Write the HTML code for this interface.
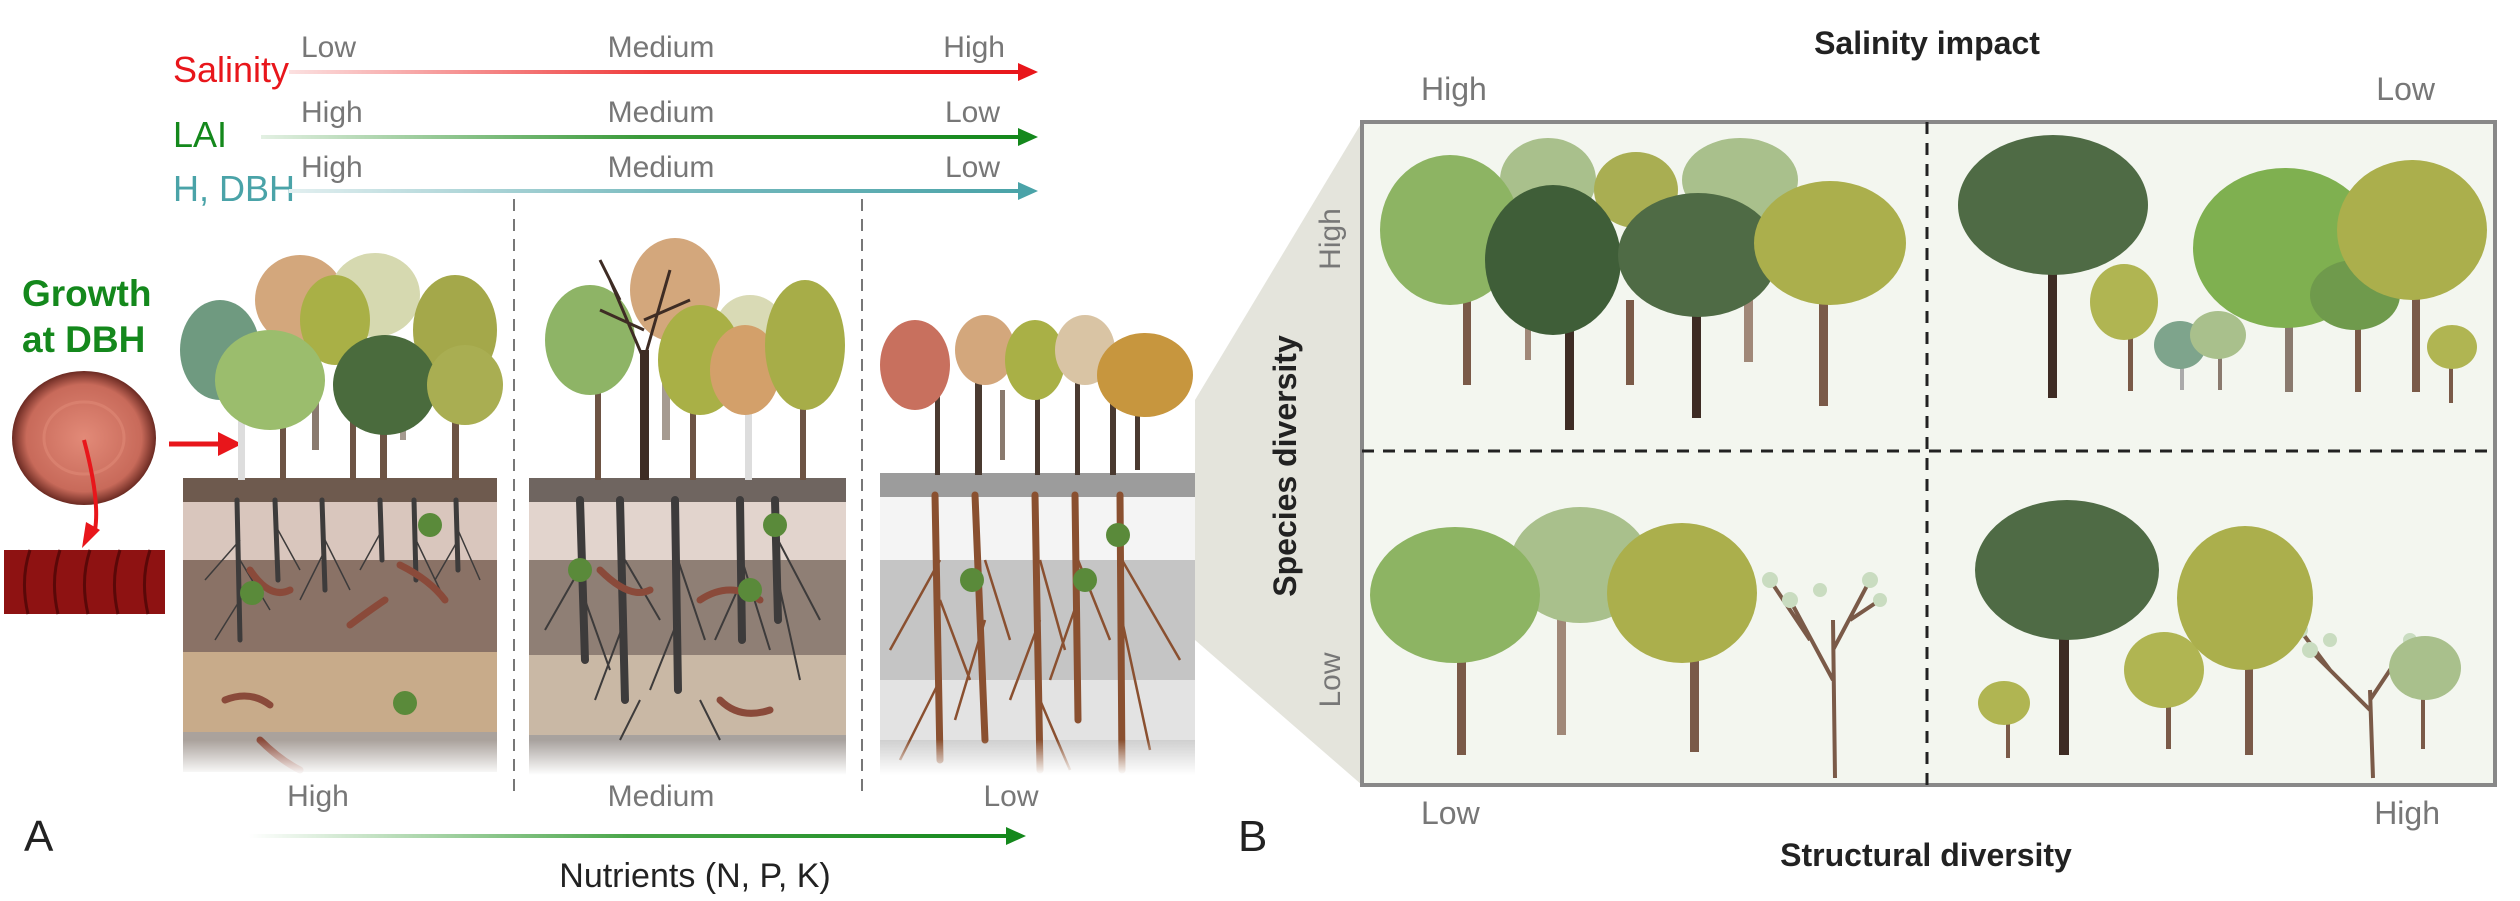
<!DOCTYPE html>
<html><head><meta charset="utf-8"><style>
html,body{margin:0;padding:0;background:#fff;}
svg{display:block;}
text{font-family:"Liberation Sans",sans-serif;}
</style></head><body>
<svg width="2520" height="901" viewBox="0 0 2520 901" xmlns="http://www.w3.org/2000/svg">
<defs>
<linearGradient id="gr" x1="0" x2="1"><stop offset="0" stop-color="#fbe0e0"/><stop offset="0.5" stop-color="#ef3a3a"/><stop offset="1" stop-color="#e8161b"/></linearGradient>
<linearGradient id="gg" x1="0" x2="1"><stop offset="0" stop-color="#e3f0e3"/><stop offset="0.5" stop-color="#3a9a3a"/><stop offset="1" stop-color="#14881c"/></linearGradient>
<linearGradient id="gt" x1="0" x2="1"><stop offset="0" stop-color="#e2eff0"/><stop offset="0.5" stop-color="#7bbcc0"/><stop offset="1" stop-color="#4aa3a8"/></linearGradient>
<linearGradient id="gn" x1="0" x2="1"><stop offset="0" stop-color="#ffffff"/><stop offset="0.5" stop-color="#4aa64a"/><stop offset="1" stop-color="#14881c"/></linearGradient>
<linearGradient id="fade" x1="0" y1="0" x2="0" y2="1"><stop offset="0" stop-color="#fff" stop-opacity="0"/><stop offset="1" stop-color="#fff" stop-opacity="1"/></linearGradient>
<radialGradient id="ring"><stop offset="0" stop-color="#e28a78"/><stop offset="0.8" stop-color="#c86a5a"/><stop offset="1" stop-color="#6b2a22"/></radialGradient>
</defs>

<!-- top gradient arrows -->
<text x="173" y="82" font-size="36" fill="#e8161b">Salinity</text>
<rect x="289" y="70" width="731" height="4" fill="url(#gr)"/>
<polygon points="1038,72 1018,63 1018,81" fill="#e8161b"/>
<text x="301" y="57" font-size="30" fill="#777">Low</text>
<text x="661" y="57" font-size="30" fill="#777" text-anchor="middle">Medium</text>
<text x="1005" y="57" font-size="30" fill="#777" text-anchor="end">High</text>

<text x="173" y="147" font-size="36" fill="#14881c">LAI</text>
<rect x="261" y="135" width="759" height="4" fill="url(#gg)"/>
<polygon points="1038,137 1018,128 1018,146" fill="#14881c"/>
<text x="301" y="122" font-size="30" fill="#777">High</text>
<text x="661" y="122" font-size="30" fill="#777" text-anchor="middle">Medium</text>
<text x="1000" y="122" font-size="30" fill="#777" text-anchor="end">Low</text>

<text x="173" y="201" font-size="36" fill="#4aa3a8">H, DBH</text>
<rect x="289" y="189" width="731" height="4" fill="url(#gt)"/>
<polygon points="1038,191 1018,182 1018,200" fill="#4aa3a8"/>
<text x="301" y="177" font-size="30" fill="#777">High</text>
<text x="661" y="177" font-size="30" fill="#777" text-anchor="middle">Medium</text>
<text x="1000" y="177" font-size="30" fill="#777" text-anchor="end">Low</text>

<!-- dashed separators -->
<line x1="514" y1="199" x2="514" y2="795" stroke="#777" stroke-width="2" stroke-dasharray="12,8"/>
<line x1="862" y1="199" x2="862" y2="795" stroke="#777" stroke-width="2" stroke-dasharray="12,8"/>

<!-- Growth at DBH -->
<text x="22" y="306" font-size="37" font-weight="bold" fill="#14881c">Growth</text>
<text x="22" y="352" font-size="37" font-weight="bold" fill="#14881c">at DBH</text>
<ellipse cx="84" cy="438" rx="72" ry="67" fill="url(#ring)"/>
<ellipse cx="84" cy="438" rx="40" ry="36" fill="none" stroke="#d9806e" stroke-width="3"/>
<path d="M84,440 Q100,500 95,530" stroke="#e8161b" stroke-width="4" fill="none"/>
<polygon points="82,548 86,522 100,530" fill="#e8161b"/>
<rect x="4" y="550" width="161" height="64" fill="#8e1212"/>
<path d="M30,550 Q20,580 28,614 M60,550 Q50,580 58,614 M90,550 Q80,580 88,614 M120,550 Q110,580 118,614 M150,550 Q140,580 148,614" stroke="#5a0808" stroke-width="3" fill="none"/>
<line x1="169" y1="444" x2="222" y2="444" stroke="#e8161b" stroke-width="5"/>
<polygon points="242,444 218,432 218,456" fill="#e8161b"/>

<!-- Panel 1 soil -->
<g>
<rect x="183" y="478" width="314" height="24" fill="#6e5a4e"/>
<rect x="183" y="502" width="314" height="58" fill="#d9c6bd"/>
<rect x="183" y="560" width="314" height="92" fill="#8a7266"/>
<rect x="183" y="652" width="314" height="80" fill="#c8ab8a"/>
<rect x="183" y="732" width="314" height="40" fill="#aaa29c"/>
<g stroke="#3d3b3b" stroke-width="5" fill="none" stroke-linecap="round">
<path d="M237,500 L240,640"/><path d="M275,500 L278,580"/><path d="M322,500 L325,590"/><path d="M380,500 L382,560"/><path d="M414,500 L416,580"/><path d="M456,500 L458,570"/>
</g>
<g stroke="#3d3b3b" stroke-width="1.5" fill="none">
<path d="M240,540 L205,580 M240,560 L270,610 M278,530 L300,570 M325,540 L350,590 M325,550 L300,600 M382,530 L360,570 M416,540 L440,590 M458,530 L480,580 M458,540 L435,580 M240,600 L215,640"/>
</g>
<g stroke="#8a4a3a" stroke-width="7" fill="none" stroke-linecap="round">
<path d="M250,570 Q270,600 290,590"/><path d="M400,565 Q430,580 445,600"/><path d="M350,625 Q370,610 385,600"/><path d="M225,700 Q250,690 270,705"/><path d="M260,740 Q280,760 300,770"/>
</g>
<circle cx="430" cy="525" r="12" fill="#5a8a3a"/><circle cx="252" cy="593" r="12" fill="#5a8a3a"/><circle cx="405" cy="703" r="12" fill="#5a8a3a"/>
<rect x="183" y="740" width="314" height="35" fill="url(#fade)"/>
</g>
<!-- Panel 1 trees -->
<g>
<g fill="#6d5444"><rect x="280" y="390" width="6" height="90"/><rect x="350" y="390" width="6" height="90"/><rect x="312" y="380" width="7" height="70" fill="#8a7a6e"/><rect x="380" y="390" width="7" height="90"/><rect x="400" y="380" width="6" height="60" fill="#a59a90"/><rect x="452" y="390" width="7" height="90"/></g>
<rect x="238" y="400" width="7" height="80" fill="#ddd"/>
<ellipse cx="220" cy="350" rx="40" ry="50" fill="#6f9a80"/>
<ellipse cx="300" cy="300" rx="45" ry="45" fill="#d3a77c"/>
<ellipse cx="375" cy="295" rx="45" ry="42" fill="#d6d9b0"/>
<ellipse cx="335" cy="320" rx="35" ry="45" fill="#a9b046"/>
<ellipse cx="455" cy="330" rx="42" ry="55" fill="#a4a84a"/>
<ellipse cx="270" cy="380" rx="55" ry="50" fill="#9bbd6d"/>
<ellipse cx="385" cy="385" rx="52" ry="50" fill="#4a6b3d"/>
<ellipse cx="465" cy="385" rx="38" ry="40" fill="#a9ae52"/>
</g>

<!-- Panel 2 soil -->
<g>
<rect x="529" y="478" width="317" height="24" fill="#6f6560"/>
<rect x="529" y="502" width="317" height="58" fill="#e2d4cd"/>
<rect x="529" y="560" width="317" height="95" fill="#8f7f75"/>
<rect x="529" y="655" width="317" height="80" fill="#c9b8a5"/>
<rect x="529" y="735" width="317" height="40" fill="#a8a29e"/>
<g stroke="#3d3b3b" stroke-width="8" fill="none" stroke-linecap="round">
<path d="M580,500 L585,660"/><path d="M620,500 L625,700"/><path d="M675,500 L678,690"/><path d="M740,500 L742,640"/><path d="M775,500 L778,620"/>
</g>
<g stroke="#3d3b3b" stroke-width="2" fill="none">
<path d="M585,560 L545,630 M585,600 L610,670 M625,560 L660,620 M625,620 L595,700 M678,560 L705,640 M678,620 L650,690 M742,560 L770,650 M742,580 L715,640 M778,540 L820,620 M778,580 L800,680 M640,700 L620,740 M700,700 L720,740"/>
</g>
<g stroke="#8a4a3a" stroke-width="7" fill="none" stroke-linecap="round">
<path d="M600,570 Q630,600 650,590"/><path d="M700,600 Q730,580 760,600"/><path d="M720,700 Q740,720 770,710"/>
</g>
<circle cx="580" cy="570" r="12" fill="#5a8a3a"/><circle cx="775" cy="525" r="12" fill="#5a8a3a"/><circle cx="750" cy="590" r="12" fill="#5a8a3a"/>
<rect x="529" y="740" width="317" height="35" fill="url(#fade)"/>
</g>
<!-- Panel 2 trees -->
<g>
<g fill="#6d5444"><rect x="595" y="390" width="6" height="90"/><rect x="640" y="350" width="9" height="130" fill="#3e2c24"/><rect x="690" y="390" width="6" height="90"/><rect x="662" y="380" width="8" height="60" fill="#a59a90"/><rect x="745" y="390" width="7" height="90" fill="#ddd"/><rect x="800" y="390" width="6" height="90"/></g>
<ellipse cx="590" cy="340" rx="45" ry="55" fill="#8eb466"/>
<ellipse cx="675" cy="290" rx="45" ry="52" fill="#d3a77c"/>
<ellipse cx="750" cy="330" rx="35" ry="35" fill="#d9dab5"/>
<ellipse cx="700" cy="360" rx="42" ry="55" fill="#a9b046"/>
<ellipse cx="745" cy="370" rx="35" ry="45" fill="#d3a06a"/>
<ellipse cx="805" cy="345" rx="40" ry="65" fill="#a7ad48"/>
<g stroke="#3e2c24" stroke-width="3" fill="none"><path d="M644,360 L610,280 M644,360 L670,270 M644,330 L600,310 M644,320 L690,300 M620,300 L600,260"/></g>
</g>

<!-- Panel 3 soil -->
<g>
<rect x="880" y="473" width="315" height="24" fill="#9c9c9c"/>
<rect x="880" y="497" width="315" height="63" fill="#f4f4f4"/>
<rect x="880" y="560" width="315" height="120" fill="#c5c5c5"/>
<rect x="880" y="680" width="315" height="60" fill="#e3e3e3"/>
<rect x="880" y="740" width="315" height="35" fill="#d0d0d0"/>
<g stroke="#8a5030" stroke-width="7" fill="none" stroke-linecap="round">
<path d="M935,495 L940,760"/><path d="M975,495 L985,740"/><path d="M1035,495 L1040,770"/><path d="M1075,495 L1078,720"/><path d="M1120,495 L1122,770"/>
</g>
<g stroke="#8a5030" stroke-width="2.5" fill="none">
<path d="M940,560 L890,650 M940,600 L970,680 M985,560 L1010,640 M985,620 L955,720 M1040,560 L1065,650 M1040,620 L1010,700 M1078,560 L1110,640 M1078,600 L1050,680 M1122,560 L1180,660 M1122,620 L1150,750 M940,680 L900,760 M1040,700 L1070,770"/>
</g>
<circle cx="1118" cy="535" r="12" fill="#5a8a3a"/><circle cx="972" cy="580" r="12" fill="#5a8a3a"/><circle cx="1085" cy="580" r="12" fill="#5a8a3a"/>
<rect x="880" y="740" width="315" height="35" fill="url(#fade)"/>
</g>
<!-- Panel 3 trees -->
<g>
<g fill="#4a3a30"><rect x="935" y="390" width="5" height="85"/><rect x="975" y="380" width="7" height="95"/><rect x="1000" y="390" width="5" height="70" fill="#8a7a6e"/><rect x="1035" y="390" width="5" height="85"/><rect x="1075" y="380" width="5" height="95"/><rect x="1110" y="390" width="6" height="85"/><rect x="1135" y="390" width="5" height="80"/></g>
<ellipse cx="915" cy="365" rx="35" ry="45" fill="#c8705e"/>
<ellipse cx="985" cy="350" rx="30" ry="35" fill="#d3a77c"/>
<ellipse cx="1035" cy="360" rx="30" ry="40" fill="#a9b046"/>
<ellipse cx="1085" cy="350" rx="30" ry="35" fill="#d9c4a4"/>
<ellipse cx="1145" cy="375" rx="48" ry="42" fill="#c7963e"/>
</g>

<!-- bottom labels -->
<text x="318" y="806" font-size="30" fill="#777" text-anchor="middle">High</text>
<text x="661" y="806" font-size="30" fill="#777" text-anchor="middle">Medium</text>
<text x="1011" y="806" font-size="30" fill="#777" text-anchor="middle">Low</text>
<text x="24" y="851" font-size="44" fill="#222">A</text>
<rect x="249" y="834" width="759" height="4" fill="url(#gn)"/>
<polygon points="1026,836 1006,827 1006,845" fill="#14881c"/>
<text x="695" y="887" font-size="34" fill="#222" text-anchor="middle">Nutrients (N, P, K)</text>

<!-- Panel B -->
<polygon points="1195,400 1362,122 1362,785 1195,640" fill="#e4e4dc"/>
<text x="1238" y="851" font-size="44" fill="#222">B</text>
<text x="1927" y="54" font-size="32" font-weight="bold" fill="#222" text-anchor="middle">Salinity impact</text>
<text x="1421" y="100" font-size="32" fill="#777">High</text>
<text x="2435" y="100" font-size="32" fill="#777" text-anchor="end">Low</text>
<text x="1421" y="824" font-size="32" fill="#777">Low</text>
<text x="2440" y="824" font-size="32" fill="#777" text-anchor="end">High</text>
<text x="1926" y="866" font-size="32" font-weight="bold" fill="#222" text-anchor="middle">Structural diversity</text>
<text transform="translate(1296,466) rotate(-90)" font-size="32" font-weight="bold" fill="#222" text-anchor="middle">Species diversity</text>
<text transform="translate(1340,239) rotate(-90)" font-size="30" fill="#777" text-anchor="middle">High</text>
<text transform="translate(1340,680) rotate(-90)" font-size="30" fill="#777" text-anchor="middle">Low</text>

<rect x="1362" y="122" width="1133" height="663" fill="#f3f6ef" stroke="#888" stroke-width="4"/>
<line x1="1362" y1="451" x2="2495" y2="451" stroke="#222" stroke-width="3" stroke-dasharray="12,9"/>
<line x1="1927" y1="122" x2="1927" y2="785" stroke="#222" stroke-width="3" stroke-dasharray="12,9"/>

<!-- Q1 trees -->
<g>
<rect x="1463" y="270" width="8" height="115" fill="#7a5a48"/>
<rect x="1525" y="300" width="6" height="60" fill="#a08878"/>
<rect x="1565" y="300" width="9" height="130" fill="#3e2c24"/>
<rect x="1626" y="300" width="8" height="85" fill="#7a5a48"/>
<rect x="1692" y="300" width="9" height="118" fill="#3e2c24"/>
<rect x="1744" y="300" width="9" height="62" fill="#a08878"/>
<rect x="1819" y="290" width="9" height="116" fill="#7a5a48"/>
<ellipse cx="1548" cy="180" rx="48" ry="42" fill="#a9c08c"/>
<ellipse cx="1740" cy="180" rx="58" ry="42" fill="#a9c08c"/>
<ellipse cx="1636" cy="190" rx="42" ry="38" fill="#a9ae52"/>
<ellipse cx="1450" cy="230" rx="70" ry="75" fill="#8db463"/>
<ellipse cx="1553" cy="260" rx="68" ry="75" fill="#3f5e38"/>
<ellipse cx="1698" cy="255" rx="80" ry="62" fill="#4f6b45"/>
<ellipse cx="1830" cy="243" rx="76" ry="62" fill="#abaf4c"/>
</g>
<!-- Q2 trees -->
<g>
<rect x="2048" y="260" width="9" height="138" fill="#3e2c24"/>
<rect x="2128" y="300" width="5" height="91" fill="#7a5a48"/>
<rect x="2180" y="340" width="4" height="50" fill="#aaa"/>
<rect x="2218" y="330" width="4" height="60" fill="#8a7a6e"/>
<rect x="2285" y="300" width="8" height="92" fill="#8a7a6e"/>
<rect x="2355" y="320" width="6" height="72" fill="#7a5a48"/>
<rect x="2412" y="280" width="8" height="112" fill="#7a5a48"/>
<rect x="2449" y="350" width="4" height="53" fill="#7a5a48"/>
<ellipse cx="2053" cy="205" rx="95" ry="70" fill="#4f6b45"/>
<ellipse cx="2124" cy="302" rx="34" ry="38" fill="#b0b552"/>
<ellipse cx="2180" cy="345" rx="26" ry="24" fill="#7ea48c"/>
<ellipse cx="2218" cy="335" rx="28" ry="24" fill="#a9c08c"/>
<ellipse cx="2285" cy="248" rx="92" ry="80" fill="#7fb050"/>
<ellipse cx="2355" cy="295" rx="45" ry="35" fill="#6f9a4c"/>
<ellipse cx="2412" cy="230" rx="75" ry="70" fill="#abaf4c"/>
<ellipse cx="2452" cy="347" rx="25" ry="22" fill="#b0b552"/>
</g>
<!-- Q3 trees -->
<g>
<rect x="1457" y="620" width="9" height="135" fill="#7a5a48"/>
<rect x="1557" y="600" width="9" height="135" fill="#a08878"/>
<rect x="1690" y="620" width="9" height="132" fill="#7a5a48"/>
<path d="M1835,778 L1833,620 M1833,680 L1790,600 M1833,650 L1870,580 M1810,640 L1770,580 M1850,620 L1880,600" stroke="#7a5a48" stroke-width="4" fill="none"/>
<g fill="#c9dcc0"><circle cx="1790" cy="600" r="8"/><circle cx="1870" cy="580" r="8"/><circle cx="1770" cy="580" r="8"/><circle cx="1880" cy="600" r="7"/><circle cx="1820" cy="590" r="7"/></g>
<ellipse cx="1580" cy="565" rx="70" ry="58" fill="#a9c08c"/>
<ellipse cx="1455" cy="595" rx="85" ry="68" fill="#8db463"/>
<ellipse cx="1682" cy="593" rx="75" ry="70" fill="#abaf4c"/>
</g>
<!-- Q4 trees -->
<g>
<rect x="2059" y="620" width="10" height="135" fill="#3e2c24"/>
<rect x="2006" y="700" width="4" height="58" fill="#7a5a48"/>
<rect x="2166" y="680" width="5" height="69" fill="#7a5a48"/>
<rect x="2245" y="640" width="8" height="115" fill="#7a5a48"/>
<path d="M2373,778 L2370,690 M2370,710 L2310,650 M2370,700 L2410,640 M2330,670 L2300,630" stroke="#7a5a48" stroke-width="4" fill="none"/>
<g fill="#c9dcc0"><circle cx="2310" cy="650" r="8"/><circle cx="2300" cy="630" r="8"/><circle cx="2330" cy="640" r="7"/><circle cx="2410" cy="640" r="7"/></g>
<rect x="2421" y="690" width="4" height="59" fill="#7a5a48"/>
<ellipse cx="2067" cy="570" rx="92" ry="70" fill="#4f6b45"/>
<ellipse cx="2004" cy="703" rx="26" ry="22" fill="#b0b552"/>
<ellipse cx="2164" cy="670" rx="40" ry="38" fill="#b0b552"/>
<ellipse cx="2245" cy="598" rx="68" ry="72" fill="#abaf4c"/>
<ellipse cx="2425" cy="668" rx="36" ry="32" fill="#a9c08c"/>
</g>
</svg>
</body></html>
